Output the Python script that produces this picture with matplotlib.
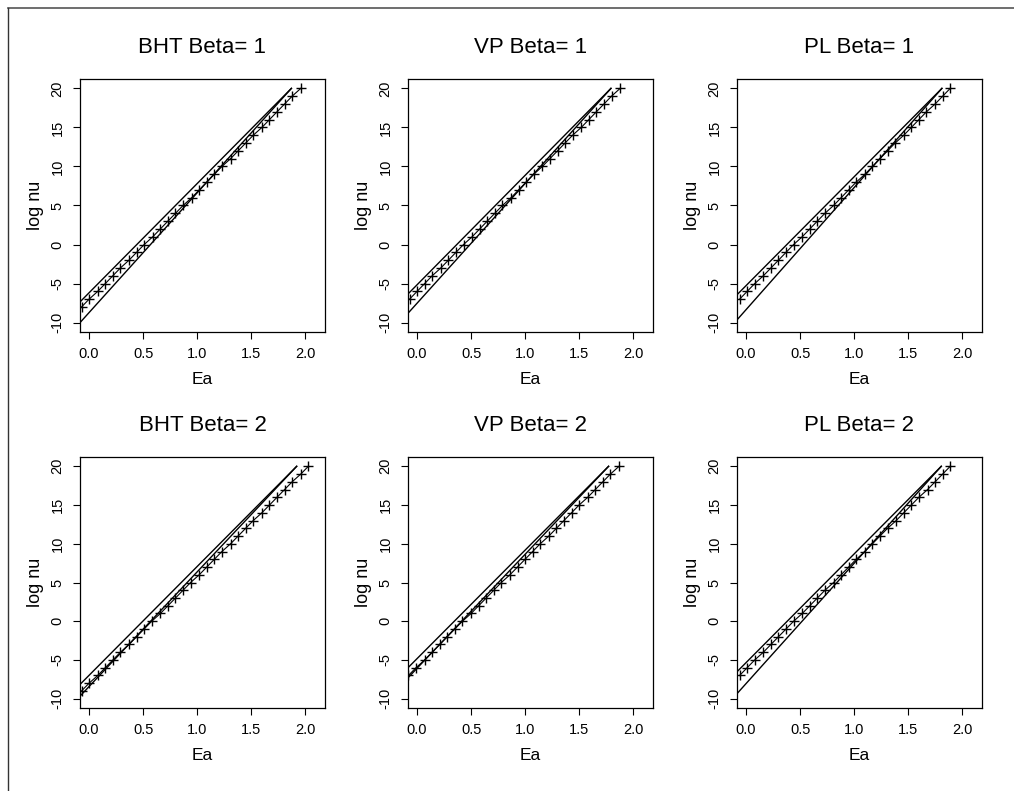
import matplotlib
matplotlib.use("Agg")
import matplotlib.pyplot as plt
from matplotlib.lines import Line2D

plt.rcParams['font.family'] = ['Liberation Sans', 'DejaVu Sans']

titles = ["BHT Beta= 1", "VP Beta= 1", "PL Beta= 1",
          "BHT Beta= 2", "VP Beta= 2", "PL Beta= 2"]

# marker series: log nu values and Ea positions
y_p1 = list(range(-8, 21))
x_p1 = [-0.07, 0.00, 0.08, 0.15, 0.22, 0.29, 0.37, 0.44, 0.51, 0.59, 0.66, 0.73, 0.80, 0.87, 0.95,
        1.02, 1.09, 1.16, 1.23, 1.31, 1.38, 1.45, 1.52, 1.60, 1.67, 1.74, 1.81, 1.88, 1.96]
y_p2 = list(range(-7, 21))
x_p2 = [-0.07, 0.00, 0.07, 0.14, 0.22, 0.29, 0.36, 0.43, 0.51, 0.58, 0.65, 0.72, 0.79, 0.87,
        0.94, 1.01, 1.08, 1.16, 1.23, 1.30, 1.37, 1.44, 1.52, 1.59, 1.66, 1.73, 1.80, 1.88]
y_p3 = list(range(-7, 21))
x_p3 = [-0.06, 0.01, 0.08, 0.16, 0.23, 0.30, 0.37, 0.44, 0.52, 0.59, 0.66, 0.73, 0.81, 0.88,
        0.95, 1.02, 1.10, 1.17, 1.24, 1.31, 1.38, 1.46, 1.53, 1.60, 1.67, 1.75, 1.82, 1.89]
y_p4 = list(range(-9, 21))
x_p4 = [-0.07, 0.00, 0.08, 0.15, 0.22, 0.29, 0.37, 0.44, 0.51, 0.58, 0.66, 0.73, 0.80, 0.87, 0.94,
        1.02, 1.09, 1.16, 1.23, 1.31, 1.38, 1.45, 1.52, 1.60, 1.67, 1.74, 1.81, 1.88, 1.96, 2.03]
y_p5 = list(range(-7, 21))
x_p5 = [-0.08, -0.01, 0.07, 0.14, 0.21, 0.28, 0.35, 0.42, 0.50, 0.57, 0.64, 0.71, 0.78, 0.86,
        0.93, 1.00, 1.07, 1.14, 1.22, 1.29, 1.36, 1.43, 1.50, 1.58, 1.65, 1.72, 1.79, 1.87]
y_p6 = list(range(-7, 21))
x_p6 = [-0.06, 0.01, 0.08, 0.16, 0.23, 0.30, 0.37, 0.44, 0.52, 0.59, 0.66, 0.73, 0.81, 0.88,
        0.95, 1.02, 1.10, 1.17, 1.24, 1.31, 1.39, 1.46, 1.53, 1.60, 1.68, 1.75, 1.82, 1.89]

# solid lines: (x_start, x_end), (y_start, y_end)
upper_x = [(-0.084, 1.873), (-0.084, 1.795), (-0.084, 1.813),
           (-0.084, 1.922), (-0.084, 1.773), (-0.084, 1.807)]
upper_y = [(-7.35, 20), (-6.33, 20), (-6.43, 20),
           (-8.16, 20), (-6.0, 20), (-6.52, 20)]
lower_x = [(-0.084, 1.873), (-0.084, 1.795), (-0.084, 1.813),
           (-0.084, 1.922), (-0.084, 1.773), (-0.084, 1.807)]
lower_y = [(-10.0, 20), (-8.8, 20), (-9.65, 20),
           (-9.67, 20), (-7.3, 20), (-9.35, 20)]

xs = [x_p1, x_p2, x_p3, x_p4, x_p5, x_p6]
ys = [y_p1, y_p2, y_p3, y_p4, y_p5, y_p6]

x_ticks = [0.0, 0.5, 1.0, 1.5, 2.0]
x_ticklabels = ["0.0", "0.5", "1.0", "1.5", "2.0"]
y_ticks = [-10, -5, 0, 5, 10, 15, 20]
y_ticklabels = ["-10", "-5", "0", "5", "10", "15", "20"]

W, H = 1014, 791
fig = plt.figure(figsize=(W / 100, H / 100), dpi=100)

lefts = [80, 408, 737]
rows = [(79, 332), (457, 708)]
aw = 245

for i in range(6):
    r, c = divmod(i, 3)
    top, bot = rows[r]
    ax = fig.add_axes([lefts[c] / W, 1 - bot / H, aw / W, (bot - top) / H])
    ax.plot(upper_x[i], upper_y[i], color='black', lw=1.0)
    ax.plot(lower_x[i], lower_y[i], color='black', lw=1.0)
    ax.plot(xs[i], ys[i], color='black', lw=0.8, marker='+', ms=7, mew=1.0)
    ax.set_xlim(-0.084, 2.184)
    ax.set_ylim(-11.2, 21.2)
    ax.set_xticks(x_ticks)
    ax.set_xticklabels(x_ticklabels)
    ax.set_yticks(y_ticks)
    ax.set_yticklabels(y_ticklabels, rotation=90, va='center')
    ax.tick_params(direction='out', length=5, width=0.8, labelsize=10.5, pad=6)
    for s in ax.spines.values():
        s.set_linewidth(0.9)
    ax.set_xlabel("Ea", fontsize=12.5, labelpad=8)
    ax.set_ylabel("log nu", fontsize=13, labelpad=5)
    ax.set_title(titles[i], fontsize=16, pad=19)

# outer frame lines (top and left)
fig.add_artist(Line2D([8 / W, 1], [1 - 8 / H, 1 - 8 / H], transform=fig.transFigure, color='#555555', lw=1.2))
fig.add_artist(Line2D([8 / W, 8 / W], [0, 1 - 8 / H], transform=fig.transFigure, color='#333333', lw=1.0))

fig.savefig("out.png", dpi=100)
